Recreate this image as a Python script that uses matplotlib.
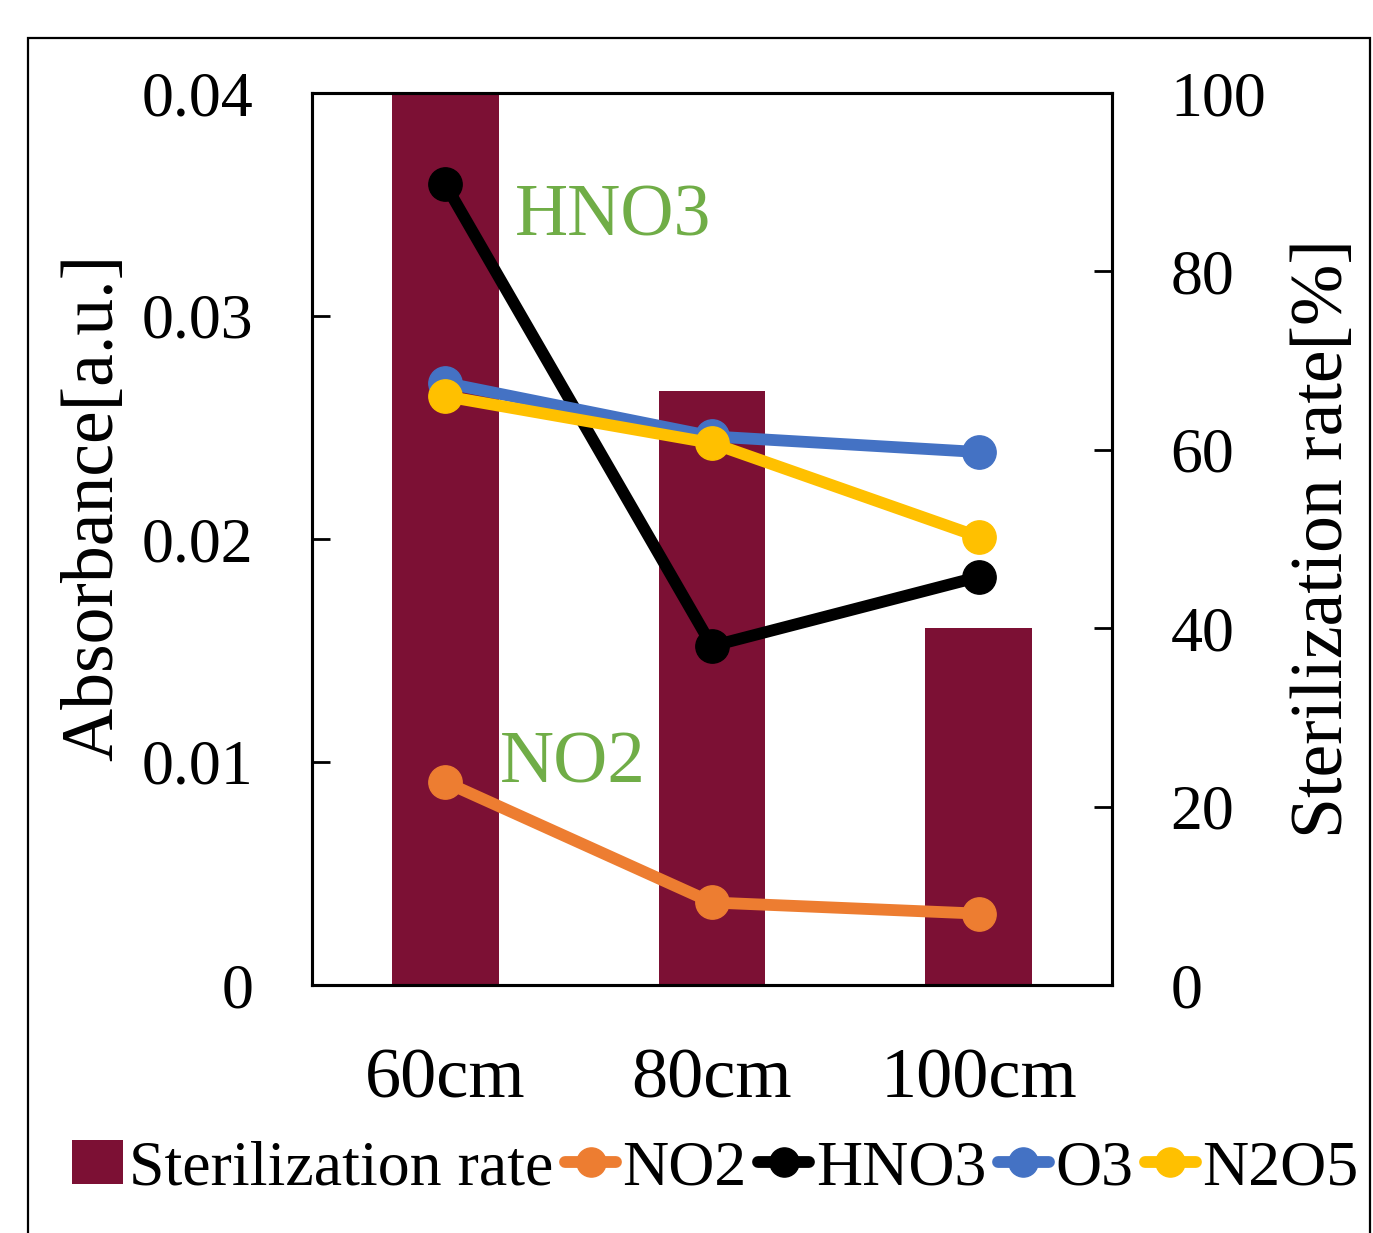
import matplotlib
matplotlib.use("Agg")
import matplotlib.pyplot as plt
from matplotlib.patches import Rectangle, Patch
from matplotlib.lines import Line2D

plt.rcParams['font.family'] = ['Liberation Serif', 'DejaVu Serif']

categories = ["60cm", "80cm", "100cm"]
sterilization = [100, 66.6, 40]
no2 = [0.0091, 0.0037, 0.0032]
hno3 = [0.0359, 0.0152, 0.0183]
o3 = [0.0270, 0.0246, 0.0239]
n2o5 = [0.0264, 0.0243, 0.0201]
left_ticks = [0, 0.01, 0.02, 0.03, 0.04]
left_labels = ["0", "0.01", "0.02", "0.03", "0.04"]
right_ticks = [0, 20, 40, 60, 80, 100]

c_bar = "#7C1034"
c_no2 = "#ED7D31"
c_hno3 = "#000000"
c_o3 = "#4472C4"
c_n2o5 = "#FFC000"
c_green = "#70AD47"

fig = plt.figure(figsize=(13.73, 12.33), dpi=100)
ax1 = fig.add_axes([312/1373, 1-985/1233, 800/1373, 892/1233])
ax2 = ax1.twinx()
ax1.set_zorder(ax2.get_zorder() + 1)
ax1.patch.set_visible(False)

x = list(range(len(categories)))
ax2.bar(x, sterilization, width=0.4, color=c_bar, zorder=1)
ax2.set_ylim(0, 100)
ax2.set_yticks(right_ticks)

lw = 8.5
ms = 24
series = [(no2, c_no2, "NO2"), (hno3, c_hno3, "HNO3"), (o3, c_o3, "O3"), (n2o5, c_n2o5, "N2O5")]
for vals, col, lab in series:
    ax1.plot(x, vals, color=col, lw=lw, marker='o', ms=ms, solid_capstyle='round', zorder=3)

ax1.set_xlim(-0.5, 2.5)
ax1.set_ylim(0, 0.04)
ax1.set_yticks(left_ticks)
ax1.set_yticklabels(left_labels)
ax1.set_xticks(x)
ax1.set_xticklabels(categories)

for a in (ax1, ax2):
    for s in a.spines.values():
        s.set_linewidth(2.2)
ax1.tick_params(axis='y', direction='in', length=13, width=2, labelsize=46, pad=42)
ax2.tick_params(axis='y', direction='in', length=13, width=2, labelsize=46, pad=42)
ax1.tick_params(axis='x', length=0, labelsize=52, pad=45)

ax1.set_ylabel("Absorbance[a.u.]", fontsize=53)
ax2.set_ylabel("Sterilization rate[%]", fontsize=53)
ax1.yaxis.set_label_coords(-(312-128)/800, (985-507)/892)
ax2.yaxis.set_label_coords(1 + (1290-1112)/800, 0.5)

ax1.text(0.262, 0.0336, "HNO3", color=c_green, fontsize=53, ha='left', va='baseline')
ax1.text(0.206, 0.0091, "NO2", color=c_green, fontsize=54, ha='left', va='baseline')

handles = [Patch(facecolor=c_bar, edgecolor='none')]
for vals, col, lab in series:
    handles.append(Line2D([], [], color=col, lw=lw, marker='o', ms=21, solid_capstyle='round'))
labels = ["Sterilization rate"] + [s[2] for s in series]
fig.legend(handles, labels, loc='center', bbox_to_anchor=(715/1373, 1-1169/1233), ncol=5,
           frameon=False, fontsize=46, handlelength=0.8, handleheight=0.7, handletextpad=0.1,
           columnspacing=0.18, borderpad=0)

fig.add_artist(Rectangle((28/1373, -0.05), (1370-28)/1373, 1-38/1233+0.05, transform=fig.transFigure,
                         fill=False, edgecolor='black', lw=1.6))

fig.savefig("out.png", dpi=100)
